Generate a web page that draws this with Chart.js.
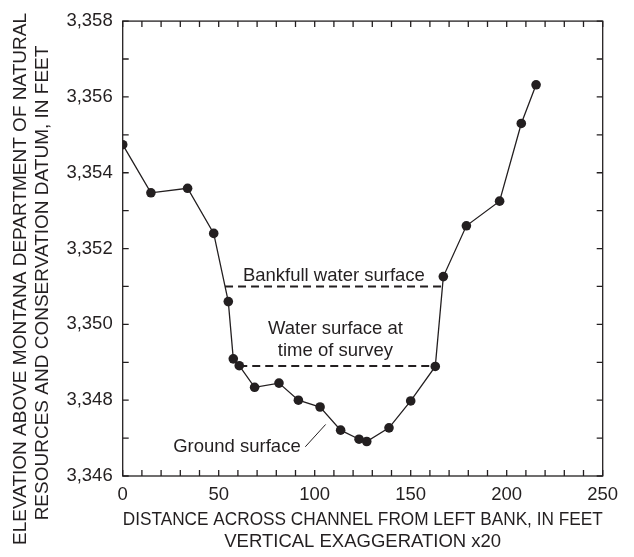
<!DOCTYPE html>
<html>
<head>
<meta charset="utf-8">
<script src="https://cdn.jsdelivr.net/npm/chart.js@4/dist/chart.umd.min.js"></script>
<style>
  html, body { margin: 0; padding: 0; background: #fff; }
  #wrap { width: 634px; height: 557px; }
</style>
</head>
<body>
<div id="wrap"><canvas id="crossSection" width="634" height="557"></canvas></div>
<script>
// surveyed ground points: distance from left bank (ft) and elevation (ft)
const distances = [0, 14.7, 33.8, 47.4, 55.0, 57.6, 60.7, 68.7, 81.4, 91.5, 102.8, 113.5, 123.1, 127.1, 138.7, 150.0, 162.8, 167.0, 179.0, 196.3, 207.6, 215.3];
const elevations = [3354.74, 3353.47, 3353.59, 3352.40, 3350.60, 3349.09, 3348.91, 3348.34, 3348.45, 3348.00, 3347.82, 3347.21, 3346.97, 3346.91, 3347.27, 3347.98, 3348.89, 3351.26, 3352.60, 3353.25, 3355.30, 3356.32];

// water surfaces
const bankfullX = [53.3, 166.5];
const bankfullElev = 3351.0;
const surveyX = [60.7, 162.8];
const surveyElev = 3348.9;

// axes
const xTicks = [0, 50, 100, 150, 200, 250];
const yTicks = [3346, 3348, 3350, 3352, 3354, 3356, 3358];

const ink = '#231f20';
const family = '"Liberation Sans", Arial, Helvetica, sans-serif';

const fmtElev = v => v.toLocaleString('en-US');

// frame, inward tick marks, callouts and the vertical axis title
const extras = {
    id: 'extras',
    afterDraw(chart) {
        const ctx = chart.ctx;
        const a = chart.chartArea;
        const sx = chart.scales.x;
        const sy = chart.scales.y;
        const tl = 6;

        ctx.save();
        ctx.strokeStyle = ink;
        ctx.lineWidth = 1.3;
        ctx.strokeRect(a.left, a.top, a.right - a.left, a.bottom - a.top);

        ctx.beginPath();
        sx.ticks.forEach(t => {
            const px = sx.getPixelForValue(t.value);
            ctx.moveTo(px, a.bottom); ctx.lineTo(px, a.bottom - tl);
            ctx.moveTo(px, a.top); ctx.lineTo(px, a.top + tl);
        });
        sy.ticks.forEach(t => {
            const py = sy.getPixelForValue(t.value);
            ctx.moveTo(a.left, py); ctx.lineTo(a.left + tl, py);
            ctx.moveTo(a.right, py); ctx.lineTo(a.right - tl, py);
        });
        ctx.stroke();

        // callouts
        ctx.fillStyle = ink;
        ctx.font = '18.5px ' + family;
        ctx.textAlign = 'center';
        ctx.textBaseline = 'alphabetic';
        const put = (txt, x, y) => ctx.fillText(txt, sx.getPixelForValue(x), sy.getPixelForValue(y));
        put('Bankfull water surface', 110.0, 3351.14);
        put('Water surface at', 110.8, 3349.75);
        put('time of survey', 110.8, 3349.17);
        put('Ground surface', 59.5, 3346.64);

        ctx.lineWidth = 1;
        ctx.beginPath();
        ctx.moveTo(sx.getPixelForValue(95.1), sy.getPixelForValue(3346.77));
        ctx.lineTo(sx.getPixelForValue(105.7), sy.getPixelForValue(3347.36));
        ctx.stroke();

        // y axis title, two lines
        ctx.font = '19px ' + family;
        ctx.textBaseline = 'middle';
        ctx.translate(21, 279);
        ctx.rotate(-Math.PI / 2);
        ctx.fillText('ELEVATION ABOVE MONTANA DEPARTMENT OF NATURAL', 0, 0);
        ctx.fillText('RESOURCES AND CONSERVATION DATUM, IN FEET', -4, 21.5);
        ctx.restore();
    }
};

const ground = distances.map((d, i) => ({ x: d, y: elevations[i] }));
const bankfull = bankfullX.map(d => ({ x: d, y: bankfullElev }));
const survey = surveyX.map(d => ({ x: d, y: surveyElev }));

new Chart(document.getElementById('crossSection').getContext('2d'), {
    type: 'line',
    data: {
        datasets: [
            {
                label: 'Ground surface',
                data: ground,
                borderColor: ink,
                borderWidth: 1.3,
                pointRadius: 4.8,
                pointBackgroundColor: ink,
                pointBorderWidth: 0,
                tension: 0
            },
            {
                label: 'Bankfull water surface',
                data: bankfull,
                borderColor: ink,
                borderWidth: 2,
                borderDash: [8, 5],
                pointRadius: 0
            },
            {
                label: 'Water surface at time of survey',
                data: survey,
                borderColor: ink,
                borderWidth: 2,
                borderDash: [8, 5],
                pointRadius: 0
            }
        ]
    },
    options: {
        responsive: false,
        animation: false,
        devicePixelRatio: 1,
        layout: { padding: { top: 15.5, right: 31.3, left: 0, bottom: 0 } },
        scales: {
            x: {
                type: 'linear',
                min: 0,
                max: 250,
                grid: { display: false, drawTicks: false },
                border: { display: false },
                ticks: {
                    stepSize: 10,
                    autoSkip: false,
                    maxRotation: 0,
                    padding: 8,
                    color: ink,
                    font: { family: family, size: 18.5 },
                    callback: v => (xTicks.includes(v) ? String(v) : '')
                },
                title: {
                    display: true,
                    text: ['DISTANCE ACROSS CHANNEL FROM LEFT BANK, IN FEET', 'VERTICAL EXAGGERATION x20'],
                    color: ink,
                    font: { family: family, size: 18.5, lineHeight: 1.17 },
                    padding: { top: 0, bottom: 4.5 }
                },
                afterFit: s => { s.height = 81; }
            },
            y: {
                type: 'linear',
                min: 3346,
                max: 3358,
                grid: { display: false, drawTicks: false },
                border: { display: false },
                ticks: {
                    stepSize: 1,
                    autoSkip: false,
                    padding: 10,
                    color: ink,
                    font: { family: family, size: 18.5 },
                    callback: v => (yTicks.includes(v) ? fmtElev(v) : '')
                },
                afterFit: s => { s.width = 122.7; }
            }
        },
        plugins: {
            legend: { display: false },
            tooltip: { enabled: false }
        }
    },
    plugins: [extras]
});
</script>
</body>
</html>
